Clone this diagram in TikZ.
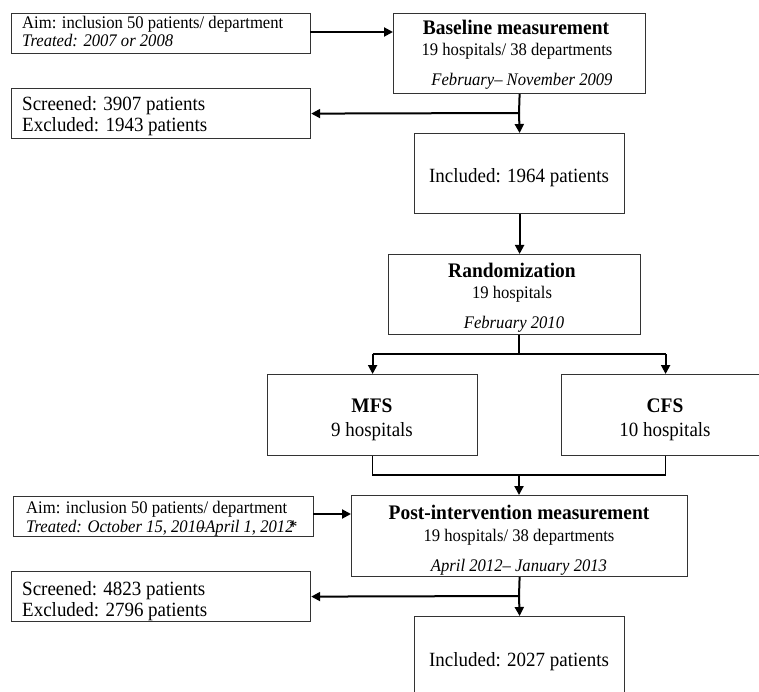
\documentclass[tikz,border=0pt]{standalone}
\usepackage{fontspec}
\setmainfont[FakeStretch=0.94]{Liberation Serif}
\usetikzlibrary{arrows.meta,calc}
\begin{document}
\begin{tikzpicture}[x=1pt,y=-1pt,
  box/.style={draw=black!80,line width=1.2pt,rectangle,inner sep=0pt,anchor=north west},
  big/.style={font=\fontsize{20.2}{22}\selectfont,anchor=base,inner sep=0pt},
  bigb/.style={font=\fontsize{20.7}{22}\selectfont\bfseries,anchor=base,inner sep=0pt},
  small/.style={font=\fontsize{17.7}{19}\selectfont,anchor=base,inner sep=0pt},
  smalli/.style={font=\fontsize{17.7}{19}\selectfont\itshape,anchor=base,inner sep=0pt},
  lbig/.style={font=\fontsize{20.2}{22}\selectfont,anchor=base west,inner sep=0pt},
  lsmall/.style={font=\fontsize{17.7}{19}\selectfont,anchor=base west,inner sep=0pt},
  lsmalli/.style={font=\fontsize{17.7}{19}\selectfont\itshape,anchor=base west,inner sep=0pt},
  arr/.style={line width=2pt,-{Triangle[length=9pt,width=9pt]}},
  ln/.style={line width=1.3pt}]
\useasboundingbox (0,0) rectangle (759,692);
\clip (0,0) rectangle (759,692);
% boxes
\node[box,minimum width=299pt,minimum height=40pt] (aimA) at (11,13) {};
\node[box,minimum width=252pt,minimum height=80pt] (base) at (393,13) {};
\node[box,minimum width=299pt,minimum height=50pt] (scrA) at (11,88) {};
\node[box,minimum width=210pt,minimum height=80pt] (incA) at (414,133) {};
\node[box,minimum width=252pt,minimum height=80pt] (rand) at (388,254) {};
\node[box,minimum width=210pt,minimum height=81pt] (mfs) at (267,374) {};
\node[box,minimum width=208pt,minimum height=81pt] (cfs) at (561,374) {};
\node[box,minimum width=300pt,minimum height=40pt] (aimB) at (13,496) {};
\node[box,minimum width=336pt,minimum height=81pt] (post) at (351,495) {};
\node[box,minimum width=299pt,minimum height=50pt] (scrB) at (11,571) {};
\node[box,minimum width=210pt,minimum height=80pt] (incB) at (414,616) {};
% texts
\node[lsmall] (tA1) at (22,29) {Aim: inclusion 50 patients/ department};
\node[lsmalli] (tA2) at (22,47) {Treated: 2007 or 2008};
\node[bigb] (tB1) at (516,35) {Baseline measurement};
\node[small] (tB2) at (517,56) {19 hospitals/ 38 departments};
\node[smalli] (tB3) at (522,86) {February– November 2009};
\node[lbig] (tS1) at (22,111) {Screened: 3907 patients};
\node[lbig] (tS2) at (22,132) {Excluded: 1943 patients};
\node[big] (tI1) at (519,183) {Included: 1964 patients};
\node[bigb] (tR1) at (512,277) {Randomization};
\node[small] (tR2) at (512,298) {19 hospitals};
\node[smalli] (tR3) at (514,328) {February 2010};
\node[bigb] (tM1) at (372,412) {MFS};
\node[big] (tM2) at (372,436) {9 hospitals};
\node[bigb] (tC1) at (665,412) {CFS};
\node[big] (tC2) at (665,436) {10 hospitals};
\node[lsmall] (tA3) at (26,513) {Aim: inclusion 50 patients/ department};
\node[lsmalli] (tA4) at (26,532) {Treated: October 15, 2010\kern-0.42em–April 1, 2012\kern-0.3em*};
\node[bigb] (tP1) at (519,519) {Post-intervention measurement};
\node[small] (tP2) at (519,541) {19 hospitals/ 38 departments};
\node[smalli] (tP3) at (519,571) {April 2012– January 2013};
\node[lbig] (tS3) at (22,595) {Screened: 4823 patients};
\node[lbig] (tS4) at (22,616) {Excluded: 2796 patients};
\node[big] (tI2) at (519,666) {Included: 2027 patients};
% junctions
\coordinate (jA) at (519,113);
\coordinate (jR) at (519,354);
\coordinate (jM) at (519,475);
\coordinate (jB) at (519,596);
\coordinate (aA) at (310,32);
\coordinate (aB) at (313,514);
% connectors
\draw[arr] (aA) -- (aA -| base.west);
\draw[line width=2pt] (base.south) -- (jA);
\draw[arr] (jA) -- (incA.north);
\draw[arr] (jA) -- (scrA.east);
\draw[arr] (incA.south) -- (incA.south |- rand.north);
\draw[ln] (rand.south -| jR) -- (jR);
\draw[ln] (mfs.north |- jR) -- (cfs.north |- jR);
\draw[arr] (mfs.north |- jR) -- (mfs.north);
\draw[arr] (cfs.north |- jR) -- (cfs.north);
\draw[ln] (mfs.south) -- (mfs.south |- jM) -- (cfs.south |- jM) -- (cfs.south);
\draw[arr] (jM) -- (jM |- post.north);
\draw[arr] (aB) -- (aB -| post.west);
\draw[line width=2pt] (post.south) -- (jB);
\draw[arr] (jB) -- (incB.north);
\draw[arr] (jB) -- (scrB.east);
\end{tikzpicture}
\end{document}
